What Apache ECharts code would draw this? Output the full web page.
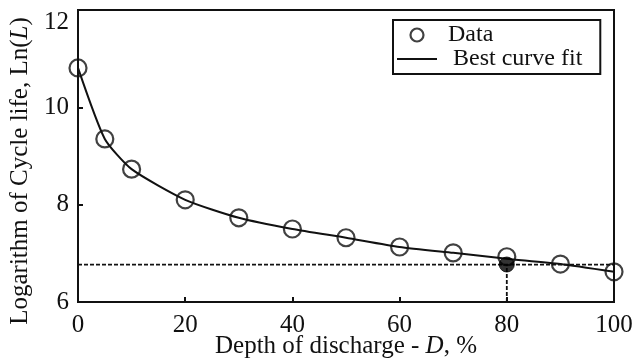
<!DOCTYPE html>
<html>
<head>
<meta charset="utf-8">
<script src="https://cdn.jsdelivr.net/npm/echarts@6/dist/echarts.min.js"></script>
<style>
  html, body { margin: 0; padding: 0; background: #fff; }
  #cycleLife { width: 633px; height: 360px; }
</style>
</head>
<body>
<div id="cycleLife"></div>
<script>
// depth of discharge (%) and measured ln(cycle life)
const depth = [0, 5, 10, 20, 30, 40, 50, 60, 70, 80, 90, 100];
const lnLife = [10.81, 9.35, 8.73, 8.10, 7.73, 7.50, 7.32, 7.13, 7.01, 6.93, 6.78, 6.62];
// fitted curve
const fitDepth = [0, 5, 10, 20, 30, 40, 50, 60, 70, 80, 90, 100];
const fitLn = [10.81, 9.35, 8.73, 8.10, 7.73, 7.50, 7.32, 7.13, 7.01, 6.89, 6.78, 6.62];
// highlighted point at 80 % DoD
const refDepth = 80;
const refLn = 6.77;
const xTicks = [0, 20, 40, 60, 80, 100];
const yTicks = [6, 8, 10, 12];

const chartDom = document.getElementById('cycleLife');
const myChart = echarts.init(chartDom);
const serif = 'Liberation Serif';

const option = {
  animation: false,
  textStyle: { fontFamily: serif, color: '#111' },
  grid: {
    left: 78,
    right: 19,
    top: 10,
    bottom: 58,
    containLabel: false,
    outerBoundsMode: 'none',
    show: true,
    borderColor: '#111',
    borderWidth: 2,
    backgroundColor: 'transparent'
  },
  legend: {
    orient: 'vertical',
    left: 393,
    top: 20,
    padding: [3, 18, 3, 4],
    itemGap: 0,
    itemWidth: 40,
    itemHeight: 13,
    borderColor: '#111',
    borderWidth: 2,
    backgroundColor: '#fff',
    textStyle: { fontFamily: serif, fontSize: 24, color: '#111', padding: [0, 0, 0, 6] },
    data: [
      { name: 'Data', icon: 'circle', itemStyle: { color: 'rgba(255,255,255,0)', borderColor: '#111', borderWidth: 2.2 } },
      {
        name: 'Best curve fit',
        icon: 'path://M0,0 L40,0 L40,2 L0,2 Z',
        itemStyle: { color: '#111' },
        textStyle: { padding: [0, 0, 0, 11] }
      }
    ]
  },
  xAxis: {
    type: 'value',
    min: 0,
    max: 100,
    interval: 20,
    name: 'Depth of discharge - {i|D}, %',
    nameLocation: 'middle',
    nameGap: 32,
    nameMoveOverlap: false,
    nameTextStyle: {
      fontFamily: serif, fontSize: 25, color: '#111',
      rich: { i: { fontFamily: serif, fontSize: 25, fontStyle: 'italic', color: '#111' } }
    },
    axisLine: { show: true, lineStyle: { color: '#111', width: 2 } },
    axisTick: { show: true, inside: true, length: 5, lineStyle: { color: '#111', width: 2 } },
    axisLabel: {
      fontFamily: serif, fontSize: 25, color: '#111', margin: 11,
      formatter: v => xTicks.includes(v) ? String(v) : ''
    },
    splitLine: { show: false }
  },
  yAxis: {
    type: 'value',
    min: 6,
    max: 12,
    interval: 2,
    name: 'Logarithm of Cycle life, Ln({i|L})',
    nameLocation: 'middle',
    nameGap: 40,
    nameTextStyle: {
      fontFamily: serif, fontSize: 25, color: '#111',
      padding: [0, 30, 0, 0],
      rich: { i: { fontFamily: serif, fontSize: 25, fontStyle: 'italic', color: '#111' } }
    },
    axisLine: { show: true, lineStyle: { color: '#111', width: 2 } },
    axisTick: { show: true, inside: true, length: 5, lineStyle: { color: '#111', width: 2 } },
    axisLabel: {
      fontFamily: serif, fontSize: 25, color: '#111', margin: 9,
      verticalAlignMaxLabel: 'top',
      formatter: v => yTicks.includes(v) ? String(v) : ''
    },
    splitLine: { show: false }
  },
  series: [
    {
      name: 'ref-h',
      type: 'line',
      data: [[0, refLn], [100, refLn]],
      symbol: 'none',
      lineStyle: { color: '#111', width: 1.8, type: [4, 2] },
      silent: true,
      z: 1
    },
    {
      name: 'ref-v',
      type: 'line',
      data: [[refDepth, 6], [refDepth, refLn]],
      symbol: 'none',
      lineStyle: { color: '#111', width: 1.8, type: [4, 2] },
      silent: true,
      z: 1
    },
    {
      name: 'Best curve fit',
      type: 'line',
      data: fitDepth.map((d, i) => [d, fitLn[i]]),
      symbol: 'none',
      smooth: 0.2,
      lineStyle: { color: '#111', width: 2 },
      z: 2
    },
    {
      name: 'Data',
      type: 'scatter',
      data: depth.map((d, i) => [d, lnLife[i]]),
      symbol: 'circle',
      symbolSize: 17,
      itemStyle: { color: 'rgba(255,255,255,0)', borderColor: '#111', borderWidth: 2.2 },
      z: 3
    },
    {
      name: 'ref-point',
      type: 'scatter',
      data: [[refDepth, refLn]],
      symbol: 'circle',
      symbolSize: 15,
      itemStyle: { color: '#000', borderColor: '#000', borderWidth: 1 },
      z: 4
    }
  ]
};

myChart.setOption(option);
</script>
</body>
</html>
